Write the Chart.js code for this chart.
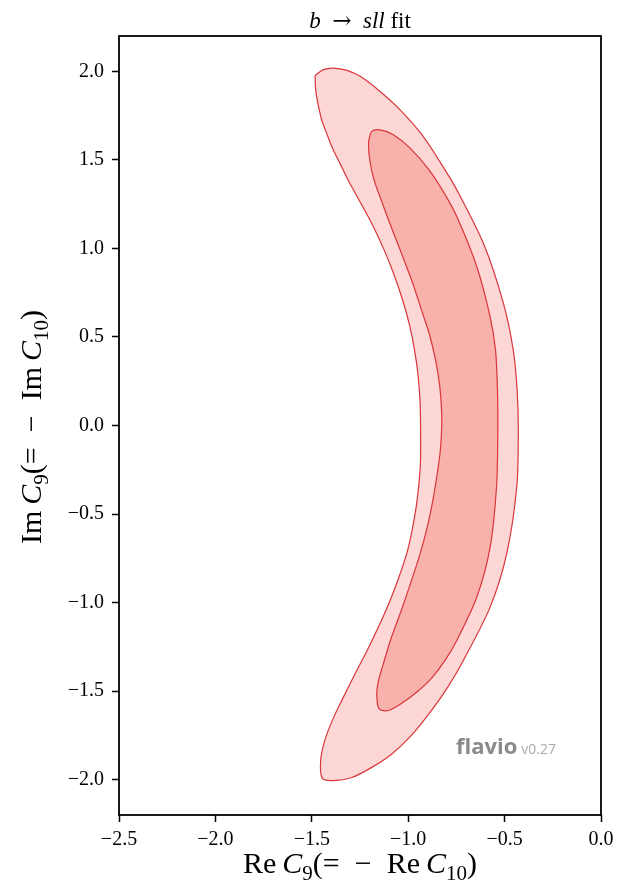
<!DOCTYPE html>
<html><head><meta charset="utf-8">
<script src="https://cdn.jsdelivr.net/npm/chart.js@4.4.0/dist/chart.umd.min.js"></script>
<style>html,body{margin:0;padding:0;background:#fff;}#wrap{width:622px;height:885px;position:relative;}</style>
</head><body><div id="wrap"><canvas id="c" width="622" height="885"></canvas></div>
<script>
// 2-sigma (outer) contour
const outerRe = [-1.483,-1.440,-1.388,-1.318,-1.249,-1.146,-1.042,-0.933,-0.835,-0.748,-0.610,-0.506,-0.455,-0.435,-0.429,-0.437,-0.489,-0.575,-0.714,-0.793,-0.876,-0.980,-1.085,-1.189,-1.292,-1.394,-1.446,-1.454,-1.433,-1.394,-1.345,-1.280,-1.213,-1.151,-1.094,-1.045,-1.003,-0.975,-0.954,-0.937,-0.936,-0.939,-0.949,-0.967,-0.993,-1.029,-1.073,-1.125,-1.185,-1.255,-1.312,-1.350,-1.389,-1.420,-1.449,-1.467,-1.480];
const outerIm = [1.977,2.010,2.019,2.006,1.972,1.887,1.783,1.648,1.489,1.331,1.029,0.690,0.426,0.200,-0.027,-0.347,-0.724,-1.026,-1.327,-1.475,-1.605,-1.746,-1.855,-1.931,-1.988,-2.006,-1.992,-1.893,-1.780,-1.667,-1.554,-1.412,-1.271,-1.130,-0.988,-0.847,-0.705,-0.564,-0.423,-0.225,0.000,0.143,0.285,0.426,0.567,0.709,0.850,0.992,1.133,1.274,1.387,1.472,1.557,1.642,1.727,1.812,1.896];
// 1-sigma (inner) contour
const innerRe = [-1.206,-1.189,-1.146,-1.077,-0.990,-0.892,-0.814,-0.748,-0.644,-0.575,-0.547,-0.537,-0.535,-0.542,-0.575,-0.644,-0.748,-0.809,-0.876,-0.949,-1.032,-1.103,-1.151,-1.163,-1.154,-1.129,-1.089,-1.042,-0.988,-0.938,-0.899,-0.869,-0.835,-0.826,-0.827,-0.837,-0.858,-0.889,-0.931,-0.977,-1.042,-1.102,-1.140,-1.169,-1.190,-1.203];
const innerIm = [1.604,1.661,1.670,1.642,1.567,1.444,1.314,1.180,0.897,0.614,0.426,0.200,-0.027,-0.347,-0.687,-0.969,-1.214,-1.327,-1.424,-1.500,-1.568,-1.610,-1.601,-1.516,-1.441,-1.346,-1.203,-1.063,-0.892,-0.724,-0.564,-0.404,-0.158,0.000,0.087,0.228,0.369,0.511,0.652,0.805,0.992,1.161,1.274,1.359,1.444,1.529];
const xTicks = [-2.5,-2.0,-1.5,-1.0,-0.5,0.0];
const yTicks = [-2.0,-1.5,-1.0,-0.5,0.0,0.5,1.0,1.5,2.0];
const xRange = [-2.5, 0];
const yRange = [-2.2, 2.2];

const SERIF = '"Liberation Serif", "DejaVu Serif", serif';
function closed(re, im){ const p = re.map((x,i)=>({x:x, y:im[i]})); p.push({x:re[0], y:im[0]}); return p; }
function fmt(v){ const a = Math.abs(v).toFixed(1); return v < -1e-9 ? '\u2212' + a : a; }

function measureRich(ctx, segs, size){
  let w = 0;
  const parts = segs.map(s=>{
    const fs = s.sub ? size*0.7 : size;
    const font = (s.it ? 'italic ' : '') + fs + 'px ' + (s.fam || SERIF);
    ctx.font = font;
    const mw = ctx.measureText(s.t).width;
    w += mw;
    return {t:s.t, font:font, w:mw, dy: s.sub ? size*0.22 : 0};
  });
  return {parts:parts, w:w};
}
function drawRich(ctx, rich, x, y){
  let cx = x;
  ctx.textAlign = 'left'; ctx.textBaseline = 'alphabetic';
  rich.parts.forEach(p=>{ ctx.font = p.font; ctx.fillText(p.t, cx, y + p.dy); cx += p.w; });
}

const decor = {
  id: 'decor',
  afterDraw(chart){
    const ctx = chart.ctx, a = chart.chartArea;
    ctx.save();
    ctx.strokeStyle = '#000'; ctx.lineWidth = 1.8;
    ctx.strokeRect(a.left, a.top, a.right - a.left, a.bottom - a.top);
    ctx.fillStyle = '#000';
    const cxm = (a.left + a.right) / 2;
    // title
    const t = measureRich(ctx, [{t:'b',it:true},{t:'\u2002'},{t:'\u2192',fam:'"DejaVu Serif", serif'},{t:'\u2002'},{t:'sll',it:true},{t:' fit'}], 23);
    drawRich(ctx, t, cxm - t.w/2, 28);
    // x label
    const xl = measureRich(ctx, [{t:'Re\u2009'},{t:'C',it:true},{t:'9',sub:true},{t:'(=\u2002\u2212\u2002Re\u2009'},{t:'C',it:true},{t:'10',sub:true},{t:')'}], 30);
    drawRich(ctx, xl, cxm - xl.w/2, 873);
    // y label
    const yl = measureRich(ctx, [{t:'Im\u2009'},{t:'C',it:true},{t:'9',sub:true},{t:'(=\u2002\u2212\u2002Im\u2009'},{t:'C',it:true},{t:'10',sub:true},{t:')'}], 30);
    ctx.translate(41, 427); ctx.rotate(-Math.PI/2);
    drawRich(ctx, yl, -yl.w/2, 0);
    ctx.restore();
    // watermark
    ctx.save();
    ctx.textBaseline = 'alphabetic'; ctx.textAlign = 'left';
    ctx.font = 'bold 22px "Open Sans", sans-serif'; ctx.fillStyle = '#8a8a8a';
    ctx.fillText('flavio', 456, 754);
    const fw = ctx.measureText('flavio').width;
    ctx.font = '14px "Open Sans", sans-serif'; ctx.fillStyle = '#ababab';
    ctx.fillText('v0.27', 456 + fw + 4, 754);
    ctx.restore();
  }
};

const tickFont = {family: SERIF, size: 20};
new Chart(document.getElementById('c'), {
  type: 'scatter',
  data: { datasets: [
    { label:'1σ', data: closed(innerRe, innerIm), showLine:true, fill:'shape', tension:0.3,
      backgroundColor:'#f9b1ac', borderColor:'#d9363a', borderWidth:1.2, pointRadius:0, order:0 },
    { label:'2σ', data: closed(outerRe, outerIm), showLine:true, fill:'shape', tension:0.3,
      backgroundColor:'#fcd7d6', borderColor:'#d9363a', borderWidth:1.2, pointRadius:0, order:1 }
  ]},
  options: {
    responsive:false, animation:false, devicePixelRatio:1,
    layout:{padding:{top:36, right:21, left:0, bottom:0}},
    plugins:{legend:{display:false}, tooltip:{enabled:false}, title:{display:false}},
    scales:{
      x:{ type:'linear', min:xRange[0], max:xRange[1],
        afterBuildTicks:s=>{ s.ticks = xTicks.map(v=>({value:v})); },
        afterFit:s=>{ s.height = 70; },
        ticks:{font:tickFont, color:'#000', padding:6, maxRotation:0, autoSkip:false, callback:v=>fmt(v)},
        grid:{display:true, drawOnChartArea:false, drawTicks:true, tickLength:7, tickWidth:1.5, tickColor:'#000'},
        border:{display:false}
      },
      y:{ type:'linear', min:yRange[0], max:yRange[1],
        afterBuildTicks:s=>{ s.ticks = yTicks.map(v=>({value:v})); },
        afterFit:s=>{ s.width = 119; },
        ticks:{font:tickFont, color:'#000', padding:8, autoSkip:false, callback:v=>fmt(v)},
        grid:{display:true, drawOnChartArea:false, drawTicks:true, tickLength:7, tickWidth:1.5, tickColor:'#000'},
        border:{display:false}
      }
    }
  },
  plugins:[decor]
});
</script></body></html>
